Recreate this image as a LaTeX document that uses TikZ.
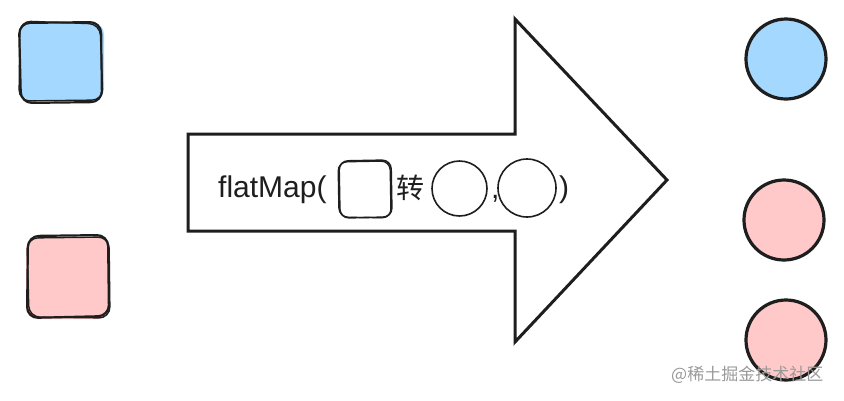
\documentclass[tikz,border=0pt]{standalone}
\usepackage{fontspec}
\setmainfont{Liberation Sans}
\newfontfamily\cjk{Noto Sans CJK SC}
\definecolor{lblue}{HTML}{A5D8FF}
\definecolor{lpink}{HTML}{FFC9C9}
\definecolor{ink}{HTML}{1E1E1E}
\definecolor{wm}{HTML}{9A9A9A}
\tikzset{
  sketch/.style={draw=ink, line width=2.2pt, rounded corners=11pt},
  sketchthin/.style={draw=ink, line width=1.6pt, rounded corners=9pt},
  dot/.style={circle, draw=ink, line width=3.2pt, minimum size=80pt, inner sep=0pt},
  ring/.style={circle, draw=ink, line width=1.6pt, inner sep=0pt},
  lbl/.style={inner sep=0pt, font=\fontsize{30}{36}\selectfont, text=ink},
}
\begin{document}
\begin{tikzpicture}[x=1pt,y=-1pt]
\useasboundingbox[fill=white] (0,0) rectangle (844,400);
% arrow
\draw[ink, line width=3pt, line join=miter] (188,134) -- (515,134) -- (515,19) -- (667,180) -- (515,342) -- (515,231) -- (188,231) -- cycle;
% blue square (sketchy)
\fill[lblue, rounded corners=11pt] (20,23) rectangle (104,100);
\draw[sketch] (19,23) -- (101,22) -- (102,102) -- (21,103) -- cycle;
\draw[sketch, line width=1.4pt] (20,21) -- (100,24) -- (103,100) -- (19,101) -- cycle;
\node[inner sep=0pt, minimum size=0pt] (sqb) at (61,62) {};
% pink square (sketchy)
\fill[lpink, rounded corners=11pt] (26,238) rectangle (110,319);
\draw[sketch] (28,236) -- (108,235) -- (109,316) -- (27,318) -- cycle;
\draw[sketch, line width=1.4pt] (27,238) -- (109,237) -- (110,318) -- (29,317) -- cycle;
\node[inner sep=0pt, minimum size=0pt] (sqp) at (68,277) {};
% circles on the right
\node[dot, fill=lblue] (cb) at (786,59) {};
\node[dot, fill=lpink] (cp1) at (784,220) {};
\node[dot, fill=lpink] (cp2) at (786,340) {};
% text inside arrow
\node[lbl, anchor=base west] (t1) at (218,197) {flatMap(};
\fill[white, rounded corners=9pt] (338,160) rectangle (392,218);
\draw[sketchthin] (339,161) -- (391,160) -- (392,217) -- (340,218) -- cycle;
\draw[sketchthin, line width=1.2pt] (338,162) -- (390,161) -- (391,218) -- (339,217) -- cycle;
\node[inner sep=0pt] (tsq) at (365,189) {};
\node[lbl, anchor=base west, font=\cjk\fontsize{28}{34}\selectfont] (t2) at (396,198) {转};
\node[ring, minimum size=55pt] (r1) at (459.5,188.5) {};
\node[lbl, anchor=base west] (t3) at (491,198) {,};
\node[ring, minimum size=58pt] (r2) at (527,188) {};
\node[lbl, anchor=base west] (t4) at (559,197) {)};
% watermark
\node[inner sep=0pt, anchor=west, text=wm, font=\cjk\fontsize{17}{20}\selectfont] (wmk) at (671,375) {@稀土掘金技术社区};
\end{tikzpicture}
\end{document}
